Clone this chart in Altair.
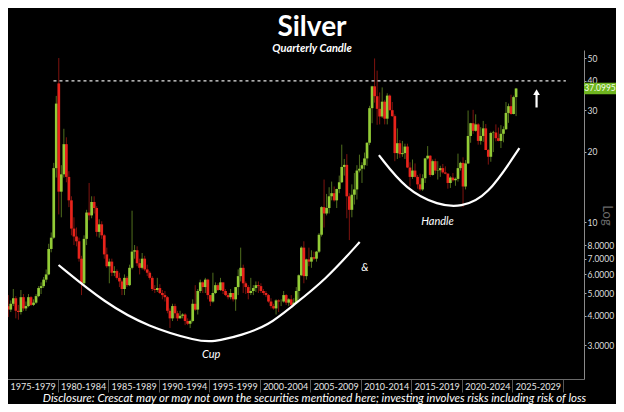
import altair as alt
import pandas as pd

# ---------------- data (quarterly candles, 1975Q1 .. 2025Q2) ----------------
first_year = 1975
opens = [
    4.39, 4.25, 4.50, 4.75,  4.20, 4.15, 4.80, 4.30,  4.40, 4.80, 4.45, 4.55,
    4.85, 5.25, 5.35, 5.70,  6.00, 7.70, 8.60, 17.00, 39.00, 13.50, 16.00, 21.50,
    15.60, 12.40, 9.40, 8.70,  8.30, 7.00, 5.50, 8.50,  11.00, 10.70, 12.20, 11.50,
    9.10, 9.80, 8.80, 7.30,  6.50, 6.80, 6.10, 6.20,  5.80, 5.60, 5.20, 5.80,
    5.40, 6.40, 7.50, 7.60,  6.70, 6.40, 7.00, 6.30,  6.10, 5.80, 5.20, 5.15,
    5.25, 5.00, 4.90, 4.80,  4.20, 3.90, 4.40, 4.10,  3.90, 4.00, 4.05, 3.80,
    3.70, 3.80, 4.50, 4.25,  5.10, 5.55, 5.30, 5.70,  4.90, 4.60, 5.00, 5.40,
    5.15, 5.55, 5.10, 4.90,  4.80, 5.00, 4.70, 5.30,  5.90, 6.40, 5.50, 5.30,
    5.00, 5.10, 5.25, 5.40,  5.35, 5.10, 5.00, 4.90,  4.60, 4.40, 4.30, 4.65,
    4.60, 4.60, 4.90, 4.55,  4.70, 4.45, 4.55, 5.10,  5.95, 7.80, 5.90, 6.95,
    6.80, 7.10, 7.00, 7.50,  8.85, 11.60, 10.90, 11.50,  12.90, 13.30, 12.40, 13.85,
    14.80, 17.20, 17.55, 12.90,  11.30, 13.10, 13.80, 16.60,  16.90, 17.50, 18.70, 21.80,
    30.60, 37.90, 34.40, 30.40,  28.20, 32.60, 27.60, 34.60,  30.00, 28.30, 19.70, 21.70,
    19.50, 19.70, 21.00, 17.10,  15.60, 16.60, 15.60, 14.50,  13.80, 15.40, 18.70, 19.20,
    15.90, 18.20, 16.60, 16.65,  17.00, 16.30, 16.10, 14.70,  15.50, 15.10, 15.30, 17.00,
    17.90, 14.20, 17.80, 23.30,  26.40, 24.50, 26.10, 22.20,  23.30, 25.10, 20.30, 19.00,
    24.00, 24.10, 22.80, 22.20,  23.80, 24.90, 29.20, 31.20,  28.90, 34.10,
]
closes = [
    4.25, 4.50, 4.75, 4.20,  4.15, 4.80, 4.30, 4.40,  4.80, 4.45, 4.55, 4.85,
    5.25, 5.35, 5.70, 6.00,  7.70, 8.60, 17.00, 32.00,  13.50, 16.00, 21.50, 15.60,
    12.40, 9.40, 8.70, 8.30,  7.00, 5.50, 8.50, 11.00,  10.70, 12.20, 11.50, 9.10,
    9.80, 8.80, 7.30, 6.50,  6.80, 6.10, 6.20, 5.80,  5.60, 5.20, 5.80, 5.40,
    6.40, 7.50, 7.60, 6.70,  6.40, 7.00, 6.30, 6.10,  5.80, 5.20, 5.15, 5.25,
    5.00, 4.90, 4.80, 4.20,  3.90, 4.40, 4.10, 3.90,  4.00, 4.05, 3.80, 3.70,
    3.80, 4.50, 4.25, 5.10,  5.55, 5.30, 5.70, 4.90,  4.60, 5.00, 5.40, 5.15,
    5.55, 5.10, 4.90, 4.80,  5.00, 4.70, 5.30, 5.90,  6.40, 5.50, 5.30, 5.00,
    5.10, 5.25, 5.40, 5.35,  5.10, 5.00, 4.90, 4.60,  4.40, 4.30, 4.65, 4.60,
    4.60, 4.90, 4.55, 4.70,  4.45, 4.55, 5.10, 5.95,  7.80, 5.90, 6.95, 6.80,
    7.10, 7.00, 7.50, 8.85,  11.60, 10.90, 11.50, 12.90,  13.30, 12.40, 13.85, 14.80,
    17.20, 17.55, 12.90, 11.30,  13.10, 13.80, 16.60, 16.90,  17.50, 18.70, 21.80, 30.60,
    37.90, 34.40, 30.40, 28.20,  32.60, 27.60, 34.60, 30.00,  28.30, 19.70, 21.70, 19.50,
    19.70, 21.00, 17.10, 15.60,  16.60, 15.60, 14.50, 13.80,  15.40, 18.70, 19.20, 15.90,
    18.20, 16.60, 16.65, 17.00,  16.30, 16.10, 14.70, 15.50,  15.10, 15.30, 17.00, 17.90,
    14.20, 17.80, 23.30, 26.40,  24.50, 26.10, 22.20, 23.30,  25.10, 20.30, 19.00, 24.00,
    24.10, 22.80, 22.20, 23.80,  24.90, 29.20, 31.20, 28.90,  34.10, 37.0995,
]
highs = [
    4.90, 4.65, 5.20, 4.85,  4.45, 5.15, 4.95, 4.60,  4.95, 4.85, 4.70, 4.95,
    5.35, 5.55, 5.85, 6.30,  8.10, 9.05, 17.90, 34.50,  50.00, 17.50, 25.00, 23.00,
    16.50, 12.90, 10.50, 9.50,  8.60, 7.20, 8.80, 11.30,  14.70, 12.90, 12.90, 11.70,
    10.30, 10.10, 8.90, 7.80,  7.00, 7.00, 6.50, 6.30,  6.10, 5.70, 6.00, 5.90,
    6.60, 11.20, 8.00, 7.90,  7.00, 7.40, 7.20, 6.60,  6.20, 5.90, 5.40, 5.80,
    5.45, 5.15, 5.10, 4.85,  4.30, 4.50, 4.50, 4.20,  4.20, 4.10, 4.10, 3.90,
    3.85, 4.70, 5.40, 5.20,  5.70, 5.60, 5.80, 5.75,  4.90, 6.10, 5.55, 5.50,
    5.80, 5.55, 5.20, 5.00,  5.20, 5.00, 5.30, 6.30,  7.80, 6.60, 5.60, 5.40,
    5.80, 5.40, 5.60, 5.60,  5.50, 5.20, 5.10, 4.95,  4.75, 4.50, 4.70, 4.70,
    4.70, 5.10, 4.95, 4.75,  4.90, 4.75, 5.30, 6.00,  7.90, 8.30, 7.00, 7.80,
    7.60, 7.50, 7.55, 9.00,  11.70, 15.20, 13.20, 14.10,  14.90, 14.20, 13.90, 15.80,
    21.40, 18.60, 19.50, 13.30,  14.50, 16.20, 17.50, 19.40,  18.00, 19.80, 21.90, 31.30,
    38.10, 49.80, 44.20, 35.70,  37.50, 33.20, 35.40, 35.00,  32.50, 28.80, 25.10, 22.40,
    22.20, 21.60, 21.60, 18.00,  18.50, 17.80, 15.90, 16.10,  16.00, 18.80, 21.10, 19.30,
    18.50, 18.65, 18.20, 17.40,  17.70, 17.30, 16.20, 15.70,  16.20, 15.50, 19.60, 18.10,
    18.90, 18.40, 29.90, 26.50,  30.10, 28.80, 26.40, 25.40,  27.00, 26.20, 20.50, 24.30,
    24.50, 26.10, 25.30, 25.90,  25.60, 32.50, 32.00, 34.90,  34.60, 37.30,
]
lows = [
    3.95, 4.15, 4.40, 3.90,  3.85, 4.05, 4.20, 4.20,  4.35, 4.40, 4.40, 4.50,
    4.80, 4.95, 5.25, 5.55,  5.95, 7.45, 8.50, 15.50,  10.80, 10.50, 15.50, 14.80,
    11.60, 8.80, 8.00, 7.90,  6.80, 4.90, 5.40, 8.00,  10.20, 10.40, 10.90, 8.70,
    8.60, 8.50, 7.00, 6.40,  5.50, 5.90, 5.90, 5.70,  5.30, 4.90, 4.90, 5.30,
    5.35, 6.30, 7.00, 6.50,  6.00, 6.30, 6.20, 5.90,  5.70, 5.10, 5.00, 5.05,
    4.95, 4.70, 4.60, 4.10,  3.55, 3.80, 3.90, 3.80,  3.90, 3.90, 3.65, 3.65,
    3.55, 3.75, 4.20, 4.05,  5.00, 5.00, 5.00, 4.70,  4.40, 4.55, 4.95, 5.10,
    5.10, 4.95, 4.85, 4.70,  4.70, 4.60, 4.20, 4.90,  5.60, 5.00, 4.95, 4.70,
    4.90, 4.90, 5.05, 5.00,  5.00, 4.90, 4.80, 4.55,  4.30, 4.25, 4.05, 4.15,
    4.40, 4.55, 4.45, 4.40,  4.35, 4.40, 4.55, 4.70,  5.90, 5.50, 5.70, 6.50,
    6.40, 6.90, 6.80, 7.40,  8.70, 9.50, 10.70, 10.90,  12.40, 12.25, 11.50, 13.30,
    14.70, 15.80, 10.40, 8.40,  10.50, 11.90, 12.50, 16.30,  14.70, 16.80, 17.40, 21.30,
    26.40, 32.30, 26.00, 26.10,  27.80, 26.10, 26.10, 29.90,  28.10, 18.20, 18.60, 18.80,
    19.00, 18.60, 17.00, 14.20,  15.30, 15.50, 13.90, 13.60,  13.60, 14.70, 18.50, 15.60,
    15.80, 16.10, 15.20, 15.60,  16.10, 16.00, 13.90, 14.00,  14.90, 14.30, 14.90, 16.60,
    11.60, 13.80, 17.70, 21.80,  23.80, 24.30, 21.40, 21.40,  22.00, 20.30, 17.60, 18.10,
    19.90, 22.10, 22.10, 20.70,  21.90, 24.70, 26.50, 28.70,  28.80, 28.30,
]

# annotation data
resistance_level = [40.0]
resistance_from = [1979.6]
resistance_to = [2030.3]
cup_years = [1980.1, 1984.7, 1989.0, 1993.9, 1995.3, 1998.3, 2000.9, 2003.1, 2006.5, 2009.9]
cup_values = [6.58, 4.53, 3.58, 3.12, 3.09, 3.31, 3.65, 4.36, 5.68, 8.24]
handle_years = [2011.8, 2014.5, 2017.7, 2019.9, 2022.5, 2025.7]
handle_values = [19.3, 13.7, 11.8, 11.6, 12.8, 20.7]
note_text = ["Cup", "Handle", "&"]
note_years = [1995.2, 2017.6, 2010.4]
note_values = [2.72, 10.0, 6.4]
arrow_year = [2027.4]
arrow_from = [30.8]
arrow_to = [35.2]
arrow_tip = [35.8]
last_price = [37.0995]
x_ticks = list(range(1975, 2031, 5))
y_ticks = [3, 4, 5, 6, 7, 8, 10, 20, 30, 40, 50]
disclosure = ("Disclosure: Crescat may or may not own the securities mentioned here; "
              "investing involves risks including risk of loss")

# ---------------- build table ----------------
n = len(closes)
t = [first_year + i / 4 + 0.125 for i in range(n)]
df = pd.DataFrame({"t": t, "open": opens, "high": highs, "low": lows, "close": closes})
df["dir"] = ["up" if c >= o else "down" for o, c in zip(opens, closes)]

FONT = "Lato"
W = 576
xscale = alt.Scale(domain=[1975, 2031.6], range=[-6, W], nice=False, zero=False)
yscale = alt.Scale(type="log", domain=[2.153, 54.1], nice=False, zero=False)
xaxis = alt.Axis(
    values=x_ticks, grid=False, domainColor="#6a6a6a", tickColor="#555555", tickSize=13,
    labelExpr="datum.value >= 2030 ? '' : datum.value + '-' + (datum.value + 4)",
    labelAlign="left", labelBaseline="top", labelPadding=-10, labelOffset=3,
    labelColor="#e6e6e6", labelFont=FONT, labelFontSize=9, labelFlush=False, labelOverlap=False,
    title=disclosure, titleFont=FONT, titleFontStyle="italic", titleFontWeight="normal",
    titleFontSize=11.5, titleColor="#ffffff", titleX=306, titleY=22.5, titleBaseline="alphabetic",
    titleAlign="center",
)
yaxis = alt.Axis(
    orient="right", values=y_ticks, grid=False, domainColor="#8a8a8a", tickColor="#aaaaaa",
    tickSize=2, labelExpr="datum.value < 10 ? format(datum.value, '.4f') : format(datum.value, 'd')",
    labelColor="#dddddd", labelFont=FONT, labelFontSize=8.5, labelPadding=1, labelFlush=False,
    labelOverlap=False,
    title="Log", titleAngle=90, titleX=22, titleY=165, titleFont=FONT, titleFontSize=13,
    titleFontWeight="normal", titleColor="#6a6a6a", titleAlign="center", titleBaseline="middle",
)


def X(field):
    return alt.X(field, type="quantitative", scale=xscale, axis=xaxis)


def Y(field):
    return alt.Y(field, type="quantitative", scale=yscale, axis=yaxis)


color = alt.Color("dir:N", scale=alt.Scale(domain=["up", "down"], range=["#92cb36", "#e8231b"]), legend=None)

base = alt.Chart(df)
wicks = base.mark_rule(strokeWidth=1, clip=True, opacity=0.55).encode(
    x=X("t"), y=Y("low"), y2="high", color=color)
bodies = base.mark_bar(width=2.7, clip=True).encode(
    x=X("t"), y=Y("open"), y2="close", color=color)

res = alt.Chart(pd.DataFrame({"a": resistance_from, "b": resistance_to, "v": resistance_level})).mark_rule(
    color="#e6e6e6", strokeDash=[3, 3], strokeWidth=1.3).encode(x=X("a"), x2="b", y=Y("v"))

cup = alt.Chart(pd.DataFrame({"t": cup_years, "v": cup_values})).mark_line(
    color="#ffffff", strokeWidth=2.2, interpolate="basis").encode(x=X("t"), y=Y("v"))
handle = alt.Chart(pd.DataFrame({"t": handle_years, "v": handle_values})).mark_line(
    color="#ffffff", strokeWidth=2.2, interpolate="basis").encode(x=X("t"), y=Y("v"))

notes = alt.Chart(pd.DataFrame({"s": note_text, "t": note_years, "v": note_values})).mark_text(
    color="#ffffff", font=FONT, fontSize=11, fontStyle="italic").encode(x=X("t"), y=Y("v"), text="s:N")

arrow_df = pd.DataFrame({"t": arrow_year, "a": arrow_from, "b": arrow_to, "c": arrow_tip})
arrow_shaft = alt.Chart(arrow_df).mark_rule(color="#ffffff", strokeWidth=2.2).encode(
    x=X("t"), y=Y("a"), y2="b")
arrow_head = alt.Chart(arrow_df).mark_point(
    shape="triangle-up", filled=True, size=45, color="#ffffff", opacity=1).encode(x=X("t"), y=Y("c"))

price_df = pd.DataFrame({"v": last_price, "s": [f"{last_price[0]:.4f}"]})
tag = alt.Chart(price_df).mark_point(
    shape="M-1,-0.36L1,-0.36L1,0.36L-1,0.36Z", size=1024, filled=True, color="#6fb51f", opacity=1).encode(
    x=alt.value(W + 16), y=Y("v"))
tag_text = alt.Chart(price_df).mark_text(
    color="#f4ffe6", font=FONT, fontSize=8.5, align="center", baseline="middle").encode(
    x=alt.value(W + 16), y=Y("v"), text="s:N")

chart = alt.layer(
    wicks, bodies, res, cup, handle, notes, arrow_shaft, arrow_head, tag, tag_text
).properties(
    width=W, height=329,
    title=alt.TitleParams(
        "Silver", subtitle="Quarterly Candle", anchor="middle", dx=16, offset=-4,
        font=FONT, fontSize=28, fontWeight="bold", color="#ffffff",
        subtitleFont=FONT, subtitleFontSize=11, subtitleFontStyle="italic",
        subtitleFontWeight="bold", subtitleColor="#ffffff", subtitlePadding=1,
    ),
    autosize=alt.AutoSizeParams(type="none"),
    padding={"left": 0, "top": 42, "right": 32, "bottom": 25},
    background="#000000",
).configure_view(stroke=None)

chart.save("out.html", embed_options={"renderer": "svg", "actions": False})
